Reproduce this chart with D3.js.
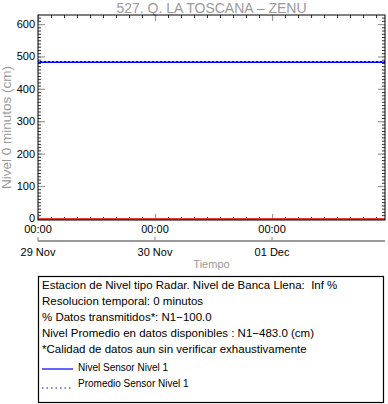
<!DOCTYPE html>
<html>
<head>
<meta charset="utf-8">
<script src="https://cdn.jsdelivr.net/npm/d3@7"></script>
<style>
    body { margin: 0; background: #fff; }
    svg { display: block; font-family: "Liberation Sans", Arial, sans-serif; }
    .info text { white-space: pre; }
</style>
</head>
<body>
<svg id="chart" width="388" height="404"></svg>
<script>
// data
let stationTitle = "527. Q. LA TOSCANA \u2013 ZENU";
let fechas = ["2023-11-29T00:00", "2023-12-01T23:10"];
let nivelSensor1 = [483, 483];
let promedioSensor1 = [483, 483];
let nivelCero = [-2, -2];
let yTicks = [0, 100, 200, 300, 400, 500, 600];
let infoLines = [
    "Estacion de Nivel tipo Radar. Nivel de Banca Llena:  Inf %",
    "Resolucion temporal: 0 minutos",
    "% Datos transmitidos*: N1\u2212100.0",
    "Nivel Promedio en datos disponibles : N1\u2212483.0 (cm)",
    "*Calidad de datos aun sin verificar exhaustivamente"
];
let legendLabels = ["Nivel Sensor Nivel 1", "Promedio Sensor Nivel 1"];

let parseTime = d3.timeParse("%Y-%m-%dT%H:%M");
let times = fechas.map(parseTime);

let svg = d3.select("#chart");

let plotLeft = 38, plotRight = 385, plotTop = 15, plotBottom = 220;
let grey = "#9a9a9a";

let xScale = d3.scaleTime()
    .domain([times[0], times[times.length - 1]])
    .range([plotLeft, plotRight]);
let yScale = d3.scaleLinear()
    .domain([-5, 628])
    .range([plotBottom, plotTop]);

// title
svg.append("text")
    .attr("x", (plotLeft + plotRight) / 2)
    .attr("y", 13)
    .attr("text-anchor", "middle")
    .attr("font-size", "14px")
    .attr("fill", grey)
    .text(stationTitle);

// y label
svg.append("text")
    .attr("transform", "translate(11," + ((plotTop + plotBottom) / 2 + 10) + ") rotate(-90)")
    .attr("text-anchor", "middle")
    .attr("font-size", "13.5px")
    .attr("fill", grey)
    .text("Nivel 0 minutos (cm)");

// ticks for the frame
let dayTicks = d3.timeDay.range(times[0], times[times.length - 1]);
let minorTicks = d3.range(0, 30)
    .map(i => d3.timeMinute.offset(times[0], i * 160))
    .filter(t => t <= times[times.length - 1]);
let yMinor = d3.range(0, 630, 10);

let frame = svg.append("g");

// left and right axes
frame.append("g").attr("transform", "translate(" + plotLeft + ",0)")
    .call(d3.axisRight(yScale).tickValues(yMinor).tickSize(3).tickFormat(""));
frame.append("g").attr("transform", "translate(" + plotRight + ",0)")
    .call(d3.axisLeft(yScale).tickValues(yMinor).tickSize(3).tickFormat(""));
frame.append("g").attr("transform", "translate(" + plotLeft + ",0)")
    .attr("class", "major")
    .call(d3.axisRight(yScale).tickValues(yTicks).tickSize(7).tickFormat(""));
frame.append("g").attr("transform", "translate(" + plotRight + ",0)")
    .attr("class", "major")
    .call(d3.axisLeft(yScale).tickValues(yTicks).tickSize(7).tickFormat(""));

// top and bottom axes
frame.append("g").attr("transform", "translate(0," + plotTop + ")")
    .call(d3.axisBottom(xScale).tickValues(minorTicks).tickSize(3).tickFormat(""));
frame.append("g").attr("transform", "translate(0," + plotBottom + ")")
    .call(d3.axisTop(xScale).tickValues(minorTicks).tickSize(3).tickFormat(""));
frame.append("g").attr("transform", "translate(0," + plotTop + ")")
    .attr("class", "major")
    .call(d3.axisBottom(xScale).tickValues(dayTicks).tickSize(6).tickFormat(""));
frame.append("g").attr("transform", "translate(0," + plotBottom + ")")
    .attr("class", "major")
    .call(d3.axisTop(xScale).tickValues(dayTicks).tickSize(6).tickFormat(""));

frame.selectAll(".domain").remove();
frame.selectAll("line").attr("stroke", "#333");
frame.selectAll(".major line").attr("stroke", grey).attr("stroke-width", 1.2);

// y tick labels
svg.append("g").selectAll("text")
    .data(yTicks)
    .enter()
    .append("text")
    .attr("x", plotLeft - 3)
    .attr("y", d => yScale(d) + 4)
    .attr("text-anchor", "end")
    .attr("font-size", "11px")
    .text(d => d);

// data lines
let line = d3.line()
    .x((d, i) => xScale(times[i]))
    .y(d => yScale(d));

svg.append("path")
    .datum(nivelCero)
    .attr("d", line)
    .attr("fill", "none")
    .attr("stroke", "#e8402c")
    .attr("stroke-width", 2);

svg.append("path")
    .datum(nivelSensor1)
    .attr("d", line)
    .attr("fill", "none")
    .attr("stroke", "#0000ff")
    .attr("stroke-width", 2);

svg.append("path")
    .datum(promedioSensor1)
    .attr("d", line)
    .attr("fill", "none")
    .attr("stroke", "#8c8cff")
    .attr("stroke-width", 1)
    .attr("stroke-dasharray", "2,2")
    .attr("transform", "translate(0,-0.5)");

// plot frame
svg.append("rect")
    .attr("x", plotLeft)
    .attr("y", plotTop)
    .attr("width", plotRight - plotLeft)
    .attr("height", plotBottom - plotTop)
    .attr("fill", "none")
    .attr("stroke", "#000")
    .attr("stroke-width", 1);

// hour labels under the plot
svg.append("g").selectAll("text")
    .data(dayTicks)
    .enter()
    .append("text")
    .attr("x", d => xScale(d))
    .attr("y", 233)
    .attr("text-anchor", "middle")
    .attr("font-size", "11px")
    .text(d3.timeFormat("%H:%M"));

// second date axis
let dateAxis = svg.append("g").attr("transform", "translate(0,241)");
dateAxis.append("line")
    .attr("x1", plotLeft)
    .attr("x2", plotRight)
    .attr("stroke", grey)
    .attr("stroke-width", 2);
dateAxis.selectAll(".dtick")
    .data(dayTicks)
    .enter()
    .append("line")
    .attr("class", "dtick")
    .attr("x1", d => xScale(d))
    .attr("x2", d => xScale(d))
    .attr("y1", 0)
    .attr("y2", -4)
    .attr("stroke", grey)
    .attr("stroke-width", 1.2);
dateAxis.selectAll("text")
    .data(dayTicks)
    .enter()
    .append("text")
    .attr("x", d => xScale(d))
    .attr("y", 15)
    .attr("text-anchor", "middle")
    .attr("font-size", "11px")
    .text(d3.timeFormat("%d %b"));

svg.append("text")
    .attr("x", (plotLeft + plotRight) / 2)
    .attr("y", 268)
    .attr("text-anchor", "middle")
    .attr("font-size", "11px")
    .attr("fill", grey)
    .text("Tiempo");

// info box
let boxX = 38.5, boxY = 276.5, boxW = 345, boxH = 126;
svg.append("rect")
    .attr("x", boxX)
    .attr("y", boxY)
    .attr("width", boxW)
    .attr("height", boxH)
    .attr("fill", "none")
    .attr("stroke", "#000")
    .attr("stroke-width", 1.2);

svg.append("g").attr("class", "info").selectAll("text")
    .data(infoLines)
    .enter()
    .append("text")
    .attr("x", 42)
    .attr("y", (d, i) => 289 + i * 16)
    .attr("font-size", "11.5px")
    .text(d => d);

let legendStyles = [
    {color: "#0000ff", dash: null},
    {color: "#0000ff", dash: "1.5,3"}
];
let legend = svg.append("g").selectAll("g")
    .data(legendLabels)
    .enter()
    .append("g")
    .attr("transform", (d, i) => "translate(0," + (368 + i * 16) + ")");
legend.append("line")
    .attr("x1", 42)
    .attr("x2", 73)
    .attr("y1", (d, i) => i == 0 ? 1 : 4)
    .attr("y2", (d, i) => i == 0 ? 1 : 4)
    .attr("stroke", (d, i) => legendStyles[i].color)
    .attr("stroke-width", 1.2)
    .attr("stroke-dasharray", (d, i) => legendStyles[i].dash);
legend.append("text")
    .attr("x", 78)
    .attr("y", 3)
    .attr("font-size", "10px")
    .text(d => d);
</script>
</body>
</html>
